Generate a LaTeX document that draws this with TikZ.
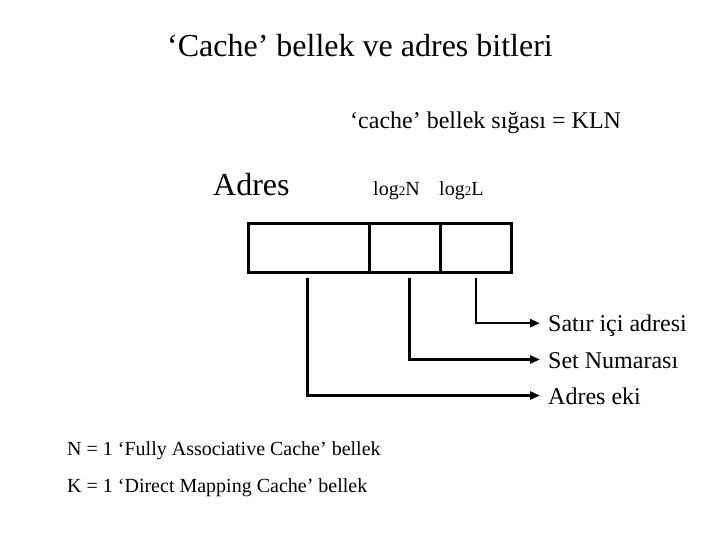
\documentclass[tikz,border=0pt]{standalone}
\usepackage{fontspec}
\setmainfont{Liberation Serif}
\usetikzlibrary{arrows.meta}

\newcommand{\fs}[1]{\fontsize{#1}{#1}\selectfont}
\newcommand{\logtwo}[1]{log{\fs{13}2}#1}

\begin{document}
\begin{tikzpicture}[x=1pt,y=-1pt]

        \useasboundingbox (0,0) rectangle (720,540);

        \begin{scope}[every node/.style={anchor=base west, inner sep=0pt}]
          \node (title) [anchor=base] at (360,57) {\fs{32}‘Cache’ bellek ve adres bitleri};
          \node (size)  at (350,129) {\fs{24}‘cache’ bellek sığası = KLN};
          \node (adres) at (213,196) {\fs{32}Adres};
          \node (logn)  at (373,196) {\fs{20}\logtwo{N}};
          \node (logl)  at (439,196) {\fs{20}\logtwo{L}};
          \node (fully)  at (67,455) {\fs{20}N = 1 ‘Fully Associative Cache’ bellek};
          \node (direct) at (67,492) {\fs{20}K = 1 ‘Direct Mapping Cache’ bellek};
        \end{scope}

        \begin{scope}[every node/.style={draw, line width=3pt, anchor=north west,
            inner sep=0pt, minimum height=48pt}]
          \node (tag) [minimum width=121pt]  at (246.5,222.5) {};
          \node (set) [minimum width=71.2pt] at (367.5,222.5) {};
          \node (off) [minimum width=71.3pt] at (438.7,222.5) {};
        \end{scope}

        \begin{scope}[every node/.style={anchor=base west, inner xsep=8pt, inner ysep=0pt,
            text height=17pt, text depth=0pt, font=\fs{24}}]
          \node (satir) at (540,331.7) {Satır içi adresi};
          \node (setno) at (540,368)   {Set Numarası};
          \node (eki)   at (540,404)   {Adres eki};
        \end{scope}

        \begin{scope}[line width=2.5pt, -{Triangle[length=10pt,width=8pt]}]
          \draw ([yshift=-4.5pt]off.south) |- (satir.west);
          \draw ([xshift=5pt,yshift=-4.5pt]set.south) |- (setno.west);
          \draw ([xshift=-1pt,yshift=-4.5pt]tag.south) |- (eki.west);
        \end{scope}

      \end{tikzpicture}
\end{document}
